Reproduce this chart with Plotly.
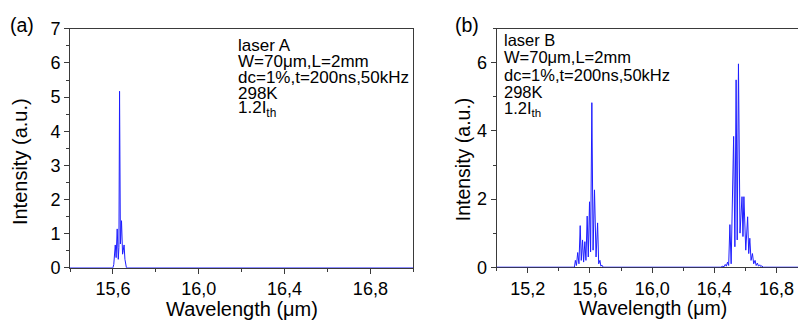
import plotly.graph_objects as go

# ---------------- data ----------------
# Panel (a): laser A spectrum
wl_a = [15.400, 15.600, 15.604, 15.608, 15.611, 15.615, 15.620, 15.625, 15.628,
        15.631, 15.635, 15.640, 15.645, 15.648, 15.652, 15.656, 15.663,
        15.850, 15.862, 15.875, 17.000]
int_a = [0.0, 0.0, 0.10, 0.45, 0.67, 0.30, 1.14, 0.25, 0.60,
         5.17, 0.70, 1.38, 0.40, 0.50, 0.67, 0.25, 0.0,
         0.0, 0.02, 0.0, 0.0]

# Panel (b): laser B spectrum
wl_b = [15.000, 15.500, 15.506, 15.513, 15.521, 15.529, 15.537, 15.544, 15.552,
        15.559, 15.567, 15.574, 15.582, 15.589, 15.597, 15.604, 15.612, 15.620,
        15.629, 15.639, 15.649, 15.656, 15.664, 15.670, 15.677, 15.685,
        16.440, 16.455, 16.462, 16.470, 16.477, 16.485, 16.492, 16.500, 16.508,
        16.524, 16.532, 16.540, 16.547, 16.555, 16.565, 16.578, 16.584, 16.590,
        16.602, 16.614, 16.621, 16.628, 16.636, 16.645, 16.653, 16.662, 16.669,
        16.677, 16.684, 16.692, 16.698, 16.705, 16.715, 17.000]
int_b = [0.0, 0.0, 0.20, 0.05, 0.43, 0.10, 1.22, 0.20, 0.80,
         0.15, 0.75, 0.20, 1.50, 0.30, 1.92, 0.45, 4.83, 0.50,
         2.27, 0.30, 1.30, 0.10, 0.20, 0.03, 0.06, 0.0,
         0.0, 0.03, 0.01, 0.08, 0.03, 0.15, 0.05, 1.25, 0.10,
         3.84, 0.60, 5.50, 0.80, 5.97, 1.00, 2.07, 0.90, 2.07,
         0.50, 1.48, 0.40, 0.85, 0.20, 0.40, 0.10, 0.20, 0.05,
         0.12, 0.03, 0.07, 0.02, 0.04, 0.0, 0.0]

info_a = ["laser A", "W=70μm,L=2mm", "dc=1%,t=200ns,50kHz", "298K", "1.2I<sub>th</sub>"]
info_b = ["laser B", "W=70μm,L=2mm", "dc=1%,t=200ns,50kHz", "298K", "1.2I<sub>th</sub>"]

xticks_a = [15.6, 16.0, 16.4, 16.8]
xticks_b = [15.2, 15.6, 16.0, 16.4, 16.8]
yticks_a = [0, 1, 2, 3, 4, 5, 6, 7]
yticks_b = [0, 2, 4, 6]

# ---------------- layout helpers ----------------
W, H = 798, 326
def px(x):
    return x / W
def py(y):
    return 1 - y / H

FONT = "Liberation Sans, Arial, sans-serif"
LINE = "rgb(30,30,255)"
AX = "#3a3a3a"

fig = go.Figure()
fig.add_trace(go.Scatter(x=wl_a, y=int_a, mode="lines", line=dict(color=LINE, width=1),
                         xaxis="x", yaxis="y", showlegend=False, hoverinfo="skip"))
fig.add_trace(go.Scatter(x=wl_b, y=int_b, mode="lines", line=dict(color=LINE, width=1),
                         xaxis="x2", yaxis="y2", showlegend=False, hoverinfo="skip"))

tickfont = dict(family=FONT, size=18, color="black")
common = dict(showgrid=False, zeroline=False, showline=True, linecolor=AX, linewidth=1,
              ticks="outside", ticklen=5, tickwidth=1, tickcolor=AX, tickfont=tickfont,
              layer="below traces")

fig.update_layout(
    width=W, height=H,
    margin=dict(l=0, r=0, t=0, b=0),
    paper_bgcolor="white", plot_bgcolor="white",
    separators=", ",
    font=dict(family=FONT, color="black"),
    xaxis=dict(domain=[px(70), px(413.3)], range=[15.4, 17.0], anchor="y",
               tickvals=xticks_a, tickformat=".1f", mirror=True,
               minor=dict(dtick=0.2, tick0=15.6, ticklen=3, ticks="outside", tickcolor=AX),
               **common),
    yaxis=dict(domain=[py(274.7), py(20)], range=[0, 7], anchor="x",
               tickvals=yticks_a, mirror=True,
               minor=dict(dtick=0.5, tick0=0, ticklen=3, ticks="outside", tickcolor=AX),
               **common),
    xaxis2=dict(domain=[px(496.7), 1.0], range=[15.0, 16.938], anchor="y2",
                tickvals=xticks_b, tickformat=".1f", mirror=True,
                minor=dict(dtick=0.2, tick0=15.0, ticklen=3, ticks="outside", tickcolor=AX),
                **common),
    yaxis2=dict(domain=[py(274), py(20)], range=[0, 7], anchor="x2",
                tickvals=yticks_b, mirror=False,
                minor=dict(dtick=1, tick0=0, ticklen=3, ticks="outside", tickcolor=AX),
                **common),
)

ann = []
def text(x, y, s, size, xanchor="center", angle=0, yanchor="middle"):
    ann.append(dict(x=px(x), y=py(y), xref="paper", yref="paper", text=s, showarrow=False,
                    xanchor=xanchor, yanchor=yanchor, textangle=angle,
                    font=dict(family=FONT, size=size, color="black")))

# panel labels
text(21.5, 16, "(a)", 19.5)
text(466.5, 16, "(b)", 19.5)
# axis titles
text(242, 319, "Wavelength (μm)", 20)
text(653, 318, "Wavelength (μm)", 19.5)
text(20, 162, "Intensity (a.u.)", 20, angle=-90)
text(463, 159, "Intensity (a.u.)", 19.5, angle=-90)
# info blocks
for i, s in enumerate(info_a):
    text(236, 38 + 17 * i, s, 17, xanchor="left")
for i, s in enumerate(info_b):
    text(502, 32 + 18.5 * i, s, 16.5, xanchor="left")

fig.update_layout(annotations=ann)

post = """
var de=document.documentElement, b=document.body;
de.style.margin='0'; b.style.margin='0';
de.style.overflow='hidden'; b.style.overflow='hidden';
"""
fig.write_html("out.html", config={"displayModeBar": False, "responsive": False},
               post_script=post)
